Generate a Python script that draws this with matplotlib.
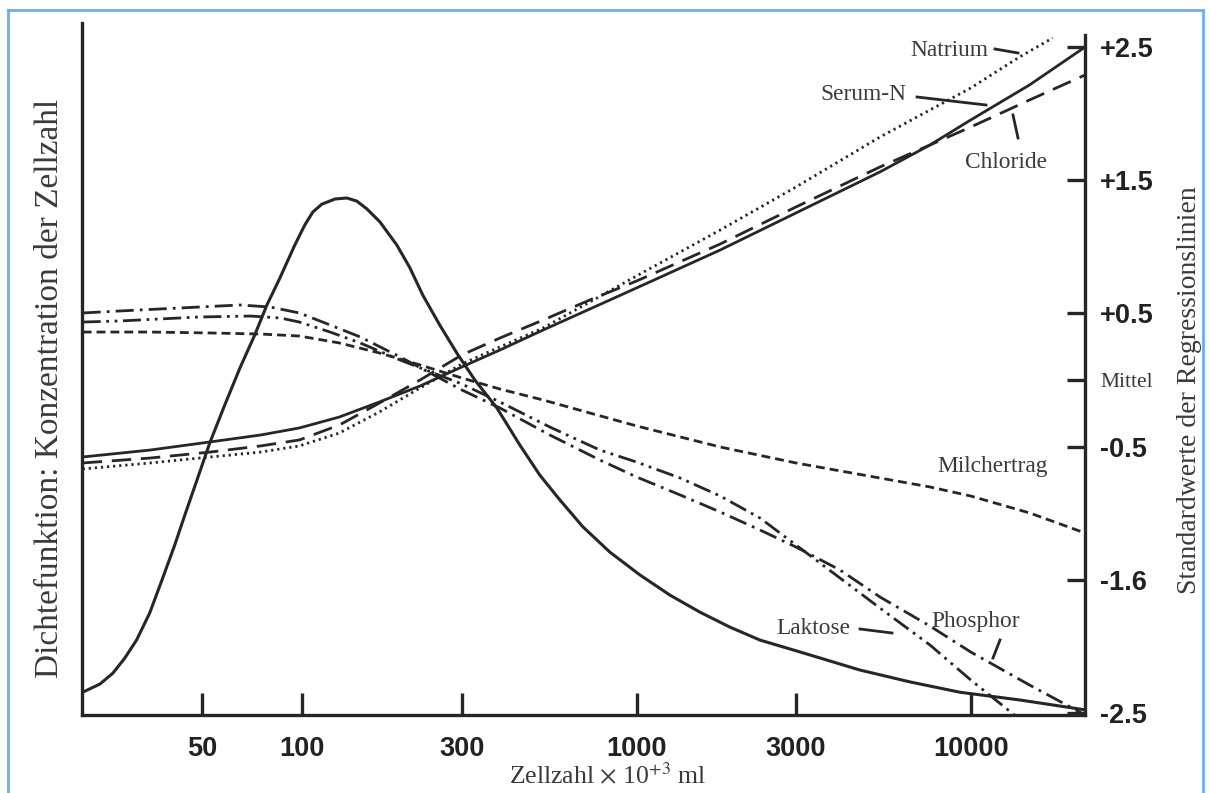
import numpy as np
import matplotlib
matplotlib.use('Agg')
import matplotlib.pyplot as plt
from matplotlib.lines import Line2D
from matplotlib.ticker import NullLocator

plt.rcParams['font.family'] = 'Liberation Serif'
plt.rcParams['mathtext.fontset'] = 'stix'

# cell count (x 10^3 per ml) and density of cell count (relative, peak = 1)
dens_x = [22, 24.8, 27.1, 29.4, 31.9, 34.9, 38, 41.5, 44.5, 49.3, 52.8, 58.6, 65, 72,
          78.3, 85.6, 94.9, 101.7, 107.5, 114.3, 125.1, 135.8, 145.5, 155.9, 170.5,
          191.7, 209.7, 229.3, 257.8, 289.9, 328.1, 381.9, 447.6, 513.5, 589.5, 690.8,
          832.2, 1023, 1258, 1547, 1902, 2339, 3082, 4660, 6579, 9286, 14040, 21976]
dens_y = [0.044, 0.060, 0.081, 0.110, 0.145, 0.197, 0.261, 0.329, 0.387, 0.470, 0.526,
          0.600, 0.671, 0.735, 0.793, 0.845, 0.909, 0.948, 0.973, 0.988, 0.998, 1.000,
          0.994, 0.979, 0.954, 0.909, 0.865, 0.812, 0.754, 0.700, 0.648, 0.594, 0.522,
          0.464, 0.416, 0.364, 0.315, 0.271, 0.232, 0.199, 0.170, 0.145, 0.122, 0.087,
          0.064, 0.044, 0.029, 0.010]

# standard values of the regression lines
reg_x = [22, 35, 53, 75, 98, 129, 170, 225, 300, 390, 525, 725, 1000, 1780, 3000,
         5350, 7550, 10000, 15000, 22000]
serum_n = [-0.578, -0.526, -0.465, -0.413, -0.360, -0.278, -0.165, -0.045, 0.098, 0.225,
           0.375, 0.533, 0.691, 0.976, 1.254, 1.562, 1.764, 1.952, 2.215, 2.500]
chloride = [-0.623, -0.586, -0.541, -0.495, -0.450, -0.338, -0.173, 0.000, 0.188, 0.315,
            0.450, 0.601, 0.743, 1.021, 1.299, 1.599, 1.764, 1.899, 2.102, 2.290]
milchertrag = [0.360, 0.360, 0.353, 0.345, 0.330, 0.278, 0.203, 0.113, 0.015, -0.068,
               -0.150, -0.248, -0.345, -0.503, -0.623, -0.736, -0.803, -0.871, -0.998, -1.149]

natrium_x = [22, 35, 53, 75, 98, 129, 170, 225, 300, 390, 525, 725, 1000, 1780, 3000,
             5350, 7550, 10000, 14000, 17600]
natrium = [-0.668, -0.623, -0.578, -0.541, -0.495, -0.398, -0.240, -0.060, 0.120, 0.248,
           0.390, 0.586, 0.781, 1.126, 1.449, 1.824, 2.027, 2.192, 2.425, 2.568]

phosphor_x = [22, 28.4, 37.4, 49.3, 65, 80, 98, 121, 149, 196, 300, 390, 550, 777, 1000,
              1350, 1780, 2340, 3000, 4060, 5350, 7550, 10000, 15000, 22000]
phosphor = [0.503, 0.518, 0.533, 0.548, 0.563, 0.548, 0.503, 0.413, 0.323, 0.173, -0.075,
            -0.210, -0.413, -0.601, -0.728, -0.863, -0.991, -1.126, -1.254, -1.426,
            -1.629, -1.847, -2.042, -2.290, -2.515]

laktose_x = [22, 28.4, 37.4, 49.3, 70, 86, 98, 121, 149, 196, 300, 390, 550, 777, 1000,
             1350, 1780, 2340, 3000, 4060, 5350, 7550, 10000, 13750]
laktose = [0.435, 0.443, 0.458, 0.473, 0.480, 0.465, 0.435, 0.360, 0.278, 0.150, -0.030,
           -0.165, -0.353, -0.526, -0.616, -0.736, -0.871, -1.036, -1.239, -1.486,
           -1.712, -1.989, -2.252, -2.530]

xticks = [50, 100, 300, 1000, 3000, 10000]
xticklabels = ['50', '100', '300', '1000', '3000', '10000']
yticks = [2.5, 1.5, 0.5, 0, -0.5, -1.5, -2.5]
yticklabels = ['+2.5', '+1.5', '+0.5', 'Mittel', '-0.5', '-1.6', '-2.5']

W, H = 1209, 793
ink = '#262626'
txt = '#3a3a3a'

fig = plt.figure(figsize=(W / 100, H / 100), dpi=100)
ax = fig.add_axes([82 / W, 1 - 715 / H, (1085 - 82) / W, (715 - 23) / H])
ax.set_xscale('log')
ax.set_xlim(21.9, 21980)
ax.set_ylim(0, 1.3385)
ax2 = ax.twinx()
ax2.set_ylim(-2.515, 2.68)

ax.plot(dens_x, dens_y, color=ink, lw=2.2, solid_joinstyle='round')

ax2.plot(reg_x, serum_n, color=ink, lw=2.0, solid_joinstyle='round')
ax2.plot(reg_x, chloride, color=ink, lw=2.0, ls=(0, (7, 3.5)))
ax2.plot(natrium_x, natrium, color=ink, lw=2.0, ls=(0, (0.8, 1.4)))
ax2.plot(reg_x, milchertrag, color=ink, lw=2.0, ls=(0, (3.2, 1.8)))
ax2.plot(phosphor_x, phosphor, color=ink, lw=2.0, ls=(0, (6.5, 2.2, 1, 2.2)))
ax2.plot(laktose_x, laktose, color=ink, lw=2.0, ls=(0, (6.5, 2, 1, 2, 1, 2)))

for s in ['top', 'right']:
    ax.spines[s].set_visible(False)
for s in ['top', 'left', 'bottom']:
    ax2.spines[s].set_visible(False)
for sp in [ax.spines['left'], ax.spines['bottom'], ax2.spines['right']]:
    sp.set_linewidth(2.4)
    sp.set_color(ink)
ax2.spines['right'].set_bounds(-2.515, 2.59)

ax.set_xticks(xticks)
ax.set_xticklabels(xticklabels)
ax.xaxis.set_minor_locator(NullLocator())
ax.tick_params(axis='x', direction='in', length=16, width=2.4, color=ink, pad=15,
               labelsize=19.5, labelcolor='#222222')
for t in ax.get_xticklabels():
    t.set_fontfamily('Liberation Sans')
    t.set_fontweight('bold')
ax.tick_params(axis='y', left=False, labelleft=False)

ax2.set_yticks(yticks)
ax2.set_yticklabels(yticklabels)
ax2.tick_params(axis='y', direction='in', length=13, width=2.4, color=ink, pad=11,
                labelsize=19.5, labelcolor='#222222')
for t in ax2.get_yticklabels():
    if t.get_text() == 'Mittel':
        t.set_fontsize(15.5)
        t.set_color(txt)
    else:
        t.set_fontfamily('Liberation Sans')
        t.set_fontweight('bold')


def fx(px):
    return px / W


def fy(py):
    return 1 - py / H


fig.text(fx(50), fy(388), 'Dichtefunktion: Konzentration der Zellzahl', rotation=90,
         ha='center', va='center', fontsize=24, color=txt)
fig.text(fx(1190), fy(390), 'Standardwerte der Regressionslinien', rotation=90,
         ha='center', va='center', fontsize=20, color=txt)
fig.text(fx(608), fy(776), r'Zellzahl $\times$ 10$^{+3}$ ml', ha='center', va='center',
         fontsize=18.5, color=txt)

labels = [('Natrium', 949, 50), ('Serum-N', 863, 95), ('Chloride', 1006, 162),
          ('Milchertrag', 993, 467), ('Laktose', 813, 628), ('Phosphor', 976, 622)]
for name, px, py in labels:
    fig.text(fx(px), fy(py), name, ha='center', va='center', fontsize=16.8, color=txt)

leaders = [((995, 49), (1018, 53)), ((917, 97), (986, 105)), ((1013, 115), (1018, 138)),
           ((860, 629), (892, 633)), ((1000, 640), (993, 658))]
for (x0, y0), (x1, y1) in leaders:
    fig.add_artist(Line2D([fx(x0), fx(x1)], [fy(y0), fy(y1)], color=ink, lw=2.0))

# blue frame of the scanned page
blue = '#6aaef0'
fig.add_artist(Line2D([fx(8), fx(1203)], [fy(10), fy(10)], color=blue, lw=2))
fig.add_artist(Line2D([fx(8), fx(8)], [fy(10), 0], color=blue, lw=2))
fig.add_artist(Line2D([fx(1203), fx(1203)], [fy(10), 0], color=blue, lw=2))

fig.savefig('out.png', dpi=100)
